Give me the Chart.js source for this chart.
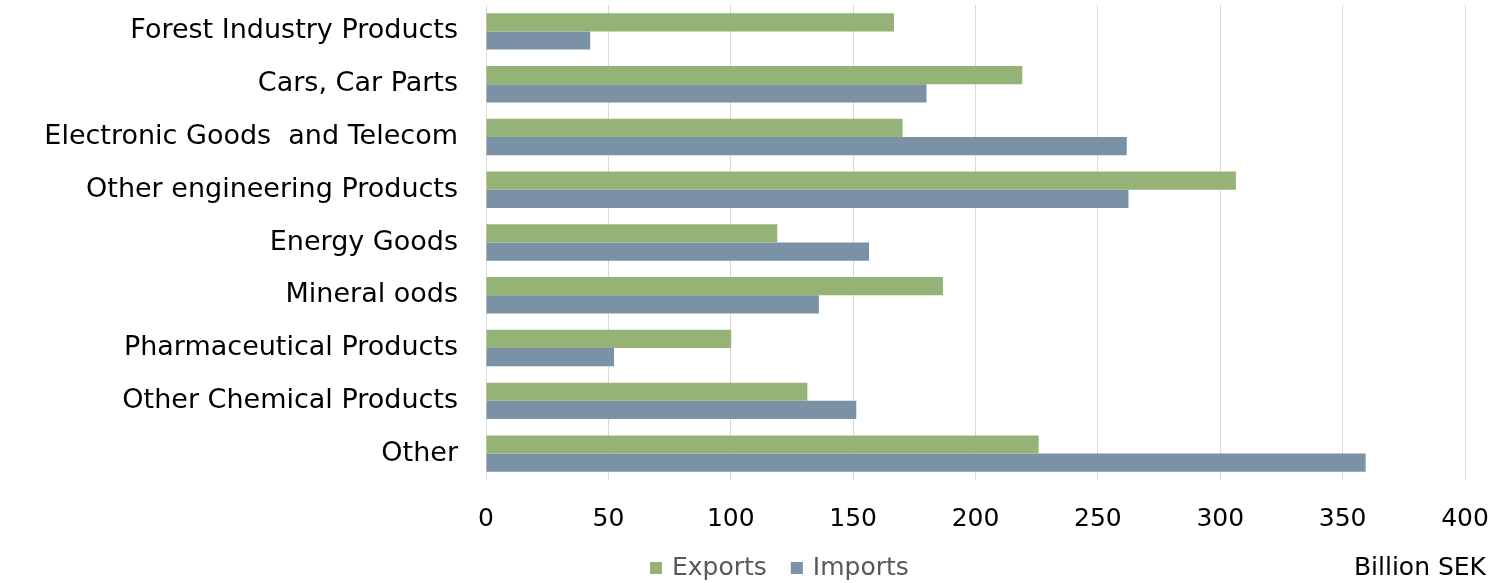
<!DOCTYPE html>
<html>
<head>
<meta charset="utf-8">
<script src="https://cdn.jsdelivr.net/npm/chart.js@4"></script>
<style>
  html, body { margin: 0; padding: 0; background: #fff; }
  #wrap { width: 1492px; height: 583px; position: relative; }
</style>
</head>
<body>
<div id="wrap"><canvas id="chart"></canvas></div>
<script>
// chart data
const categories = [
  'Forest Industry Products',
  'Cars, Car Parts',
  'Electronic Goods  and Telecom',
  'Other engineering Products',
  'Energy Goods',
  'Mineral oods',
  'Pharmaceutical Products',
  'Other Chemical Products',
  'Other'
];
const exportsValues = [166.7, 219.1, 170.2, 306.4, 119.0, 186.7, 100.2, 131.3, 225.8];
const importsValues = [42.6, 180.0, 261.8, 262.5, 156.5, 136.0, 52.3, 151.3, 359.4];
const xTicks = [0, 50, 100, 150, 200, 250, 300, 350, 400];
const unitLabel = 'Billion SEK';

const FONT = '"DejaVu Sans", sans-serif';
const GREEN = '#95b377';
const BLUE = '#7b91a6';

// legend + unit text drawn under the axis
const bottomLegend = {
  id: 'bottomLegend',
  afterDraw(chart) {
    const ctx = chart.ctx;
    ctx.save();
    ctx.font = '25px ' + FONT;
    ctx.textBaseline = 'middle';
    let x = 650;
    const y = 568;
    chart.data.datasets.forEach(ds => {
      ctx.fillStyle = ds.backgroundColor;
      ctx.fillRect(x, y - 6, 12, 12);
      x += 22;
      ctx.fillStyle = '#595959';
      ctx.textAlign = 'left';
      ctx.fillText(ds.label, x, y);
      x += ctx.measureText(ds.label).width + 24;
    });
    ctx.fillStyle = '#000';
    ctx.textAlign = 'right';
    ctx.fillText(unitLabel, 1486, y);
    ctx.restore();
  }
};

new Chart(document.getElementById('chart'), {
  type: 'bar',
  data: {
    labels: categories,
    datasets: [
      { label: 'Exports', data: exportsValues, backgroundColor: GREEN },
      { label: 'Imports', data: importsValues, backgroundColor: BLUE }
    ]
  },
  options: {
    indexAxis: 'y',
    responsive: true,
    maintainAspectRatio: false,
    animation: false,
    layout: { padding: { top: 5, right: 27, left: 0, bottom: 0 } },
    datasets: { bar: { categoryPercentage: 0.69, barPercentage: 1.0 } },
    plugins: {
      legend: { display: false },
      tooltip: { enabled: false }
    },
    scales: {
      x: {
        min: 0,
        max: 400,
        afterBuildTicks: axis => { axis.ticks = xTicks.map(v => ({ value: v })); },
        afterFit: axis => {
          axis.height = 103;
          axis.paddingLeft = 0;
          axis.paddingRight = 0;
        },
        grid: { color: '#d9d9d9', drawTicks: false },
        border: { display: false },
        ticks: { padding: 24, color: '#000', font: { family: FONT, size: 25 } }
      },
      y: {
        afterFit: axis => {
          axis.width = 486;
          axis.paddingTop = 0;
          axis.paddingBottom = 0;
        },
        grid: { display: false, drawTicks: false },
        border: { display: false },
        ticks: { padding: 28, color: '#000', font: { family: FONT, size: 27 } }
      }
    }
  },
  plugins: [bottomLegend]
});
</script>
</body>
</html>
